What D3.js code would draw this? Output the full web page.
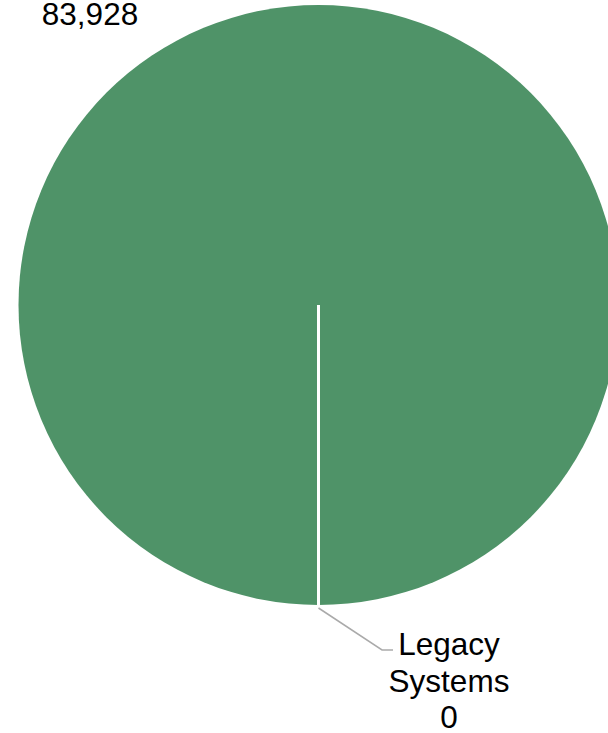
<!DOCTYPE html>
<html>
<head>
<meta charset="utf-8">
<script src="https://cdn.jsdelivr.net/npm/d3@7"></script>
<style>
  html, body { margin: 0; padding: 0; background: #fff; overflow: hidden; }
  svg { display: block; }
  text { font-family: Arial, "Liberation Sans", sans-serif; fill: #000; }
</style>
</head>
<body>
<svg id="chart" width="608" height="733"></svg>
<script>
// Slice names (one per line of the label) and their values
const categories = [["Legacy", "Systems"], [""]];
const values = [0, 83928];
const sliceColors = ["#4f9368", "#4f9368"];

const width = 608, height = 733;
const cx = 318.5, cy = 305, radius = 300;
const fontSize = 31.5, lineHeight = 36.5;

const svg = d3.select("#chart");
const g = svg.append("g").attr("transform", `translate(${cx},${cy})`);

const pie = d3.pie()
  .sort(null)
  .value(d => d.value)
  .startAngle(Math.PI)
  .endAngle(3 * Math.PI);

const data = values.map((v, i) => ({ name: categories[i], value: v, color: sliceColors[i] }));
const arcs = pie(data);

const arc = d3.arc().innerRadius(0).outerRadius(radius);

// Slices: the big one first, the zero slice on top so its white edge shows
g.selectAll("path.slice")
  .data(arcs.slice().sort((a, b) => b.value - a.value))
  .join("path")
  .attr("class", "slice")
  .attr("d", arc)
  .attr("fill", d => d.data.color)
  .attr("stroke", "#fff")
  .attr("stroke-width", d => d.value === 0 ? 3 : 0);

const fmt = d3.format(",");

// Label for the zero slice, with its leader line
const small = arcs[0];
const a0 = (small.startAngle + small.endAngle) / 2;
const p0 = [Math.sin(a0) * (radius + 3), -Math.cos(a0) * (radius + 3)];
const elbow = [p0[0] + 63.5, p0[1] + 42];
const lineEnd = [elbow[0] + 11, elbow[1]];

g.append("polyline")
  .attr("points", [p0, elbow, lineEnd].map(p => p.join(",")).join(" "))
  .attr("fill", "none")
  .attr("stroke", "#aaaaaa")
  .attr("stroke-width", 1.5);

const smallLines = small.data.name.concat([fmt(small.data.value)]);
const smallText = g.append("text")
  .attr("text-anchor", "middle")
  .attr("font-size", fontSize)
  .attr("x", lineEnd[0] + 56)
  .attr("y", lineEnd[1] + 5);
smallText.selectAll("tspan")
  .data(smallLines)
  .join("tspan")
  .attr("x", lineEnd[0] + 56)
  .attr("dy", (d, i) => i === 0 ? 0 : lineHeight)
  .text(d => d);

// Value label for the large slice
const big = arcs[1];
g.append("text")
  .attr("text-anchor", "middle")
  .attr("font-size", fontSize)
  .attr("x", 90 - cx)
  .attr("y", 25 - cy)
  .text(fmt(big.data.value));
</script>
</body>
</html>
